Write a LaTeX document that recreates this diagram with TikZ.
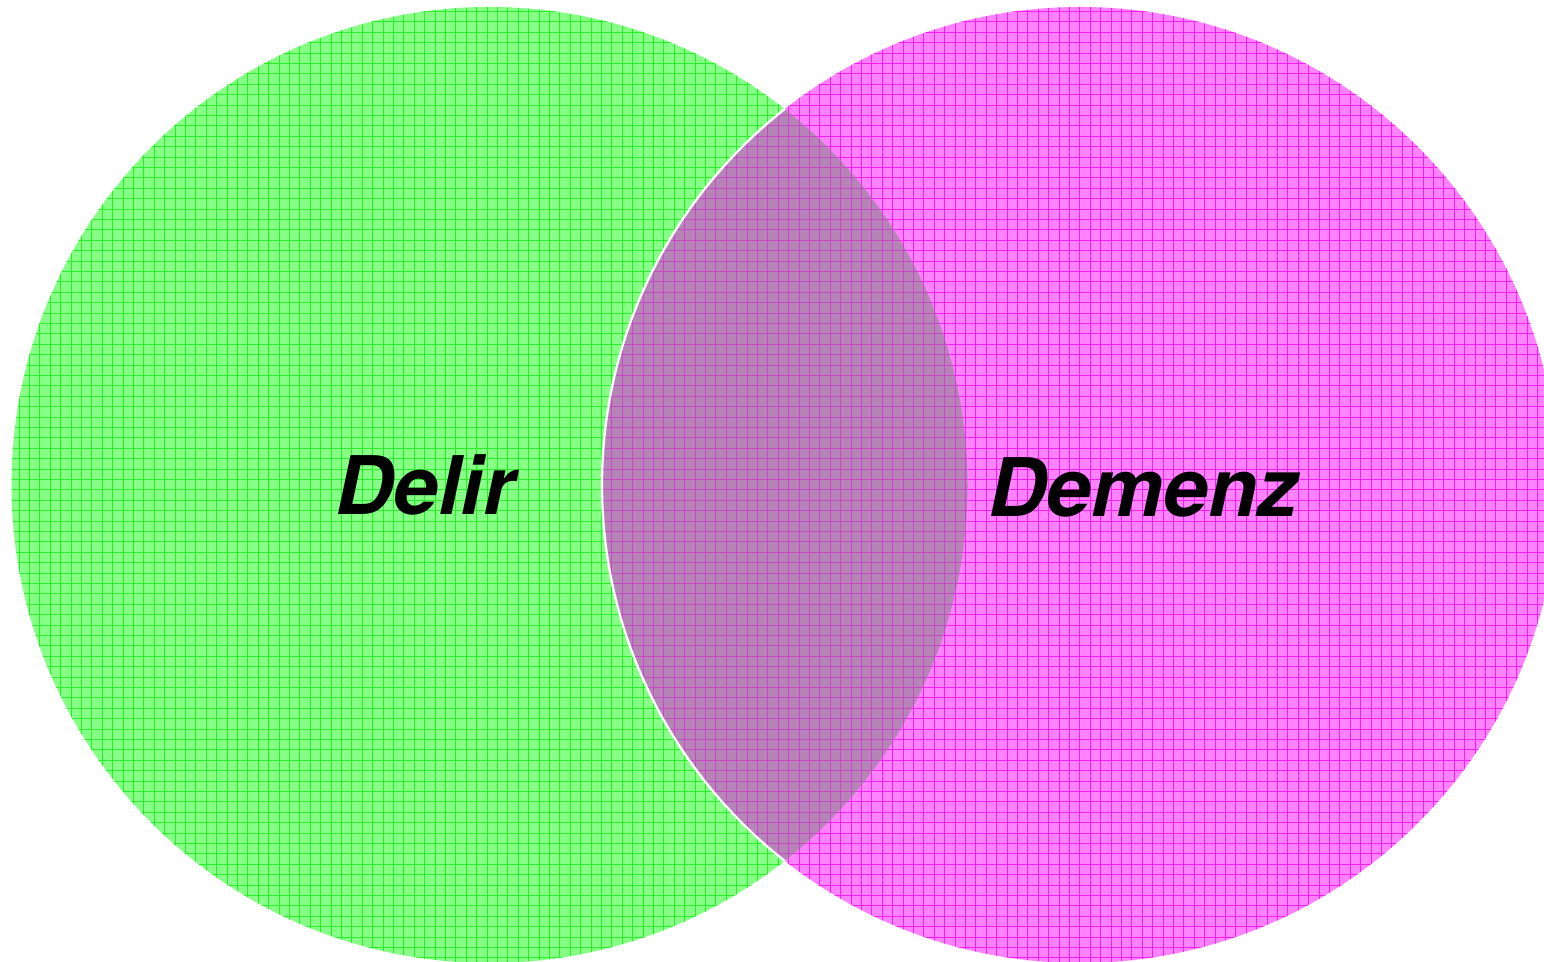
\documentclass[tikz,border=0pt]{standalone}
\usepackage{fontspec}
\setmainfont{TeX Gyre Heros}
\definecolor{gfill}{RGB}{135,255,135}
\definecolor{gline}{RGB}{40,240,40}
\definecolor{mfill}{RGB}{255,130,255}
\definecolor{mline}{RGB}{245,30,245}
\definecolor{ofill}{RGB}{182,132,182}
\definecolor{oline}{RGB}{200,70,200}
\tikzset{
  gridlines/.style={line width=0.28pt, step=0.104, shift={(-0.018,0.041)}},
  label/.style={font=\bfseries\itshape\fontsize{23}{27}\selectfont, text=black, inner sep=0pt, anchor=base}
}
\begin{document}
\begin{tikzpicture}
\useasboundingbox (0,0) rectangle (15.44,9.62);
% left circle (Delir)
\begin{scope}
  \clip (4.895,4.77) circle (4.78);
  \fill[gfill] (0,0) rectangle (15.44,9.62);
  \draw[gline, gridlines] (-0.3,-0.3) grid (15.8,9.9);
\end{scope}
% right circle (Demenz)
\begin{scope}
  \clip (10.80,4.77) circle (4.78);
  \fill[mfill] (0,0) rectangle (15.44,9.62);
  \draw[mline, gridlines] (-0.3,-0.3) grid (15.8,9.9);
\end{scope}
% overlap
\begin{scope}
  \clip (4.895,4.77) circle (4.78);
  \clip (10.80,4.77) circle (4.78);
  \fill[ofill] (0,0) rectangle (15.44,9.62);
  \draw[oline, gridlines] (-0.3,-0.3) grid (15.8,9.9);
\end{scope}
% white border of the overlap on the green side
\begin{scope}
  \clip (4.895,4.77) circle (4.78);
  \draw[white, line width=0.65pt] (10.80,4.77) circle (4.78);
\end{scope}
\node[label] (delir) at (4.25,4.47) {Delir};
\node[label] (demenz) at (11.43,4.45) {Demenz};
\end{tikzpicture}
\end{document}
